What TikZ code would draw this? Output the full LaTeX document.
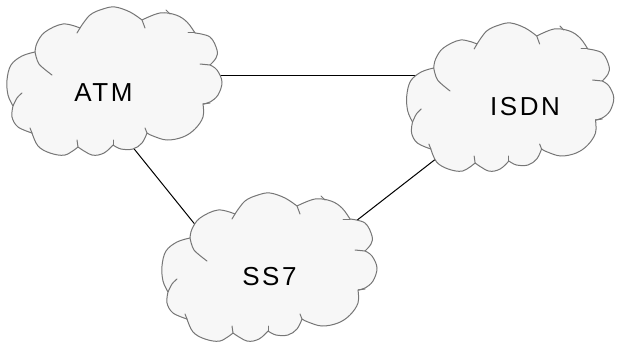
\documentclass[tikz,border=0pt]{standalone}
\usepackage{fontspec}
\setmainfont{Liberation Sans}
\usetikzlibrary{backgrounds}
\definecolor{cloudline}{RGB}{118,118,118}
\definecolor{cloudfill}{RGB}{247,247,247}
\tikzset{
  cloudedge/.style={draw=cloudline, line width=1pt, line join=round, line cap=round},
  link/.style={draw=black, line width=1pt},
  cloudtext/.style={font=\fontsize{26}{30}\selectfont\addfontfeature{LetterSpace=10}, inner sep=0pt, text=black},
  netcloud/.pic={
    \path[cloudedge, fill=cloudfill]
      plot[smooth, tension=0.6] coordinates {(35,52) (37,43) (45,32) (63,24) (80,28)}
      -- plot[smooth, tension=0.6] coordinates {(80,28) (90,15) (103,9) (115,7) (130,12) (142,20)}
      -- plot[smooth, tension=0.6] coordinates {(142,20) (160,13) (176,15) (187,22) (195,33)}
      -- plot[smooth, tension=0.6] coordinates {(195,33) (210,37) (217,50) (216,58) (210,65)}
      -- plot[smooth, tension=0.6] coordinates {(210,65) (217,70) (222,82) (218,95) (210,102) (203,104)}
      -- plot[smooth, tension=0.6] coordinates {(203,104) (203,117) (195,129) (183,137) (167,140) (153,136) (147,133)}
      -- plot[smooth, tension=0.6] coordinates {(147,133) (142,143) (133,149) (121,149) (113,145)}
      -- plot[smooth, tension=0.6] coordinates {(113,145) (104,153) (92,155) (78,147)}
      -- plot[smooth, tension=0.6] coordinates {(78,147) (65,155) (50,153) (38,146) (32,133)}
      -- plot[smooth, tension=0.6] coordinates {(32,133) (18,127) (12,117) (13,106)}
      -- plot[smooth, tension=0.6] coordinates {(13,106) (8,95) (7,80) (11,65) (22,56) (35,52)}
      -- cycle;
    \draw[cloudedge] plot[smooth] coordinates {(35,52) (39,64) (52,75)};
    \draw[cloudedge] (80,28) -- (77,33);
    \draw[cloudedge] (142,20) -- (145,28);
    \draw[cloudedge] (195,33) -- (188,33);
    \draw[cloudedge] (210,65) -- (200,64);
    \draw[cloudedge] (203,104) -- (210,103);
    \draw[cloudedge] (147,133) -- (145,128);
    \draw[cloudedge] (113,145) -- (113,140);
    \draw[cloudedge] (78,147) -- (77,140);
    \draw[cloudedge] (32,133) -- (30,128);
    \draw[cloudedge] plot[smooth] coordinates {(13,106) (17,98) (22,93)};
    \draw[cloudedge] (166,10) -- (170,14);
  }
}
\begin{document}
\begin{tikzpicture}[x=1pt, y=-1pt]
  \useasboundingbox (0,0) rectangle (617,342);
  \pic at (0,0) {netcloud};
  \pic[xscale=0.963] at (400,16) {netcloud};
  \pic at (155,186) {netcloud};
  \node[cloudtext] (atm) at (103.5,93) {ATM};
  \node[cloudtext] (isdn) at (525,107) {ISDN};
  \node[cloudtext] (ss7) at (269.5,277) {SS7};
  \begin{scope}[on background layer]
    \draw[link] ([yshift=17pt]atm.center) -- ([yshift=31pt]isdn.center);
    \draw[link] ([shift={(2.5,21)}]atm.center) -- ([shift={(-47.5,-19)}]ss7.center);
    \draw[link] ([shift={(-52,23)}]isdn.center) -- ([shift={(50.5,-28)}]ss7.center);
  \end{scope}
\end{tikzpicture}
\end{document}
